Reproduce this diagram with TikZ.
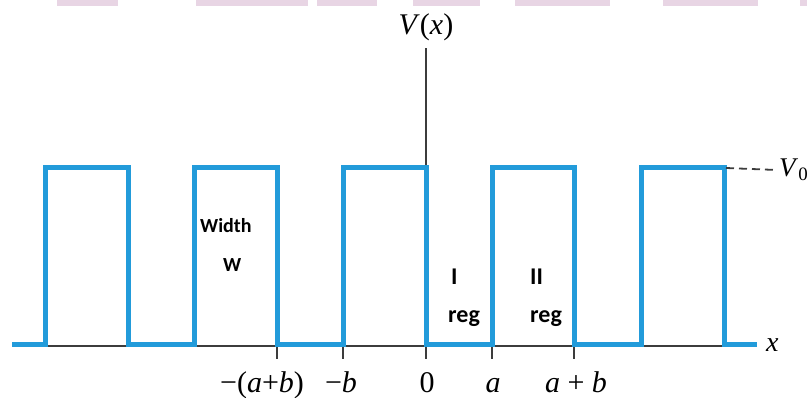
\documentclass[tikz,border=0pt]{standalone}
\usepackage{fontspec}
\setmainfont{Liberation Serif}
\newfontfamily\lblfont{Carlito}
\definecolor{wellblue}{RGB}{34,155,218}
\definecolor{barpink}{RGB}{232,213,228}
\definecolor{axisgray}{RGB}{60,60,60}
\tikzset{
  wall/.style={draw=wellblue, line width=5pt, line join=miter, line cap=butt},
  axisline/.style={draw=axisgray, line width=1.3pt},
  tickmark/.style={draw=axisgray, line width=1.3pt},
  ticklbl/.style={anchor=base, inner sep=0pt, font=\fontsize{30}{34}\selectfont},
  reglbl/.style={anchor=base west, inner sep=0pt, font=\lblfont\bfseries\fontsize{24}{28}\selectfont},
  widlbl/.style={anchor=base west, inner sep=0pt, font=\lblfont\bfseries\fontsize{20}{24}\selectfont},
  pinkbar/.style={fill=barpink, draw=none}
}
\begin{document}
\begin{tikzpicture}[x=1pt, y=-1pt]
\useasboundingbox (0,0) rectangle (807,398);
% cropped highlight remnants at the top
\fill[pinkbar] (57,0) rectangle (118,6);
\fill[pinkbar] (196,0) rectangle (308,6);
\fill[pinkbar] (317,0) rectangle (377,6);
\fill[pinkbar] (413,0) rectangle (480,6);
\fill[pinkbar] (515,0) rectangle (610,6);
\fill[pinkbar] (663,0) rectangle (758,6);
\fill[pinkbar] (800,0) rectangle (807,6);
% axes
\coordinate (xl) at (12,346);
\coordinate (xr) at (757,346);
\coordinate (yb) at (426,346);
\coordinate (yt) at (426,48);
\draw[axisline] (xl) -- (xr);
\draw[axisline] (yb) -- (yt);
% ticks
\foreach \n/\x in {t1/277,t2/343,t3/426,t4/492,t5/574}{
  \coordinate (\n) at (\x,346);
  \coordinate (\n b) at (\x,359);
  \draw[tickmark] (\n) -- (\n b);
}
% potential
\draw[wall] (12,345) -- (45,345) -- (45,168) -- (128,168) -- (128,345)
  -- (194,345) -- (194,168) -- (277,168) -- (277,345)
  -- (343,345) -- (343,168) -- (426,168) -- (426,345)
  -- (492,345) -- (492,168) -- (574,168) -- (574,345)
  -- (641,345) -- (641,168) -- (724,168) -- (724,345) -- (757,345);
% V0 level
\coordinate (vtop) at (726,168);
\node[anchor=west, inner sep=0pt, font=\fontsize{27}{31}\selectfont] (v0) at (779,170) {\textit{V}\textsubscript{0}};
\draw[axisline, line width=1.8pt, dash pattern=on 8pt off 5pt] (vtop) -- ([xshift=-2pt]v0.west);
% axis labels
\node[ticklbl] (vx) at (426,35) {\textit{V}(\textit{x})};
\node[anchor=west, inner sep=0pt, font=\fontsize{28}{32}\selectfont] (xlab) at (766,345) {\textit{x}};
% tick labels
\node[ticklbl] (l1) at (262,392) {−(\textit{a}+\textit{b})};
\node[ticklbl] (l2) at (341,392) {−\textit{b}};
\node[ticklbl] (l3) at (427,392) {0};
\node[ticklbl] (l4) at (493,392) {\textit{a}};
\node[ticklbl] (l5) at (576,392) {\textit{a} + \textit{b}};
% region labels
\node[widlbl] (w1) at (200,233) {Width};
\node[widlbl] (w2) at (223,272) {W};
\node[reglbl] (r1a) at (451,285) {I};
\node[reglbl] (r1b) at (448,323) {reg};
\node[reglbl] (r2a) at (530,285) {II};
\node[reglbl] (r2b) at (530,323) {reg};
\end{tikzpicture}
\end{document}
